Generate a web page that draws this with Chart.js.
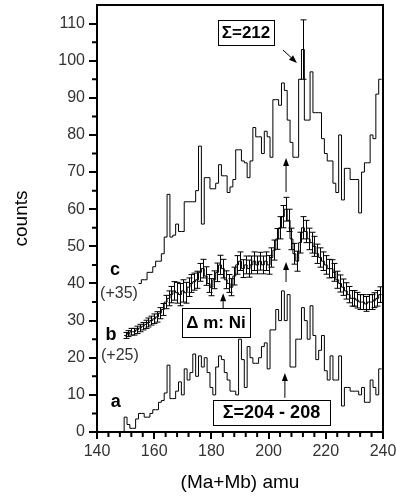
<!DOCTYPE html>
<html>
<head>
<meta charset="utf-8">
<script src="https://cdn.jsdelivr.net/npm/chart.js@4.4.0/dist/chart.umd.min.js"></script>
<style>
html,body{margin:0;padding:0;background:#fff;}
#wrap{width:396px;height:500px;position:relative;}
</style>
</head>
<body>
<div id="wrap"><canvas id="chart" width="396" height="500"></canvas></div>
<script>
// ---- data (bin centres in amu, counts as plotted incl. offsets) ----
const amuA = [149,150,151,152,153,154,155,156,157,158,159,160,161,162,163,164,165,166,167,168,169,170,171,172,173,174,175,176,177,178,179,180,181,182,183,184,185,186,187,188,189,190,191,192,193,194,195,196,197,198,199,200,201,202,203,204,205,206,207,208,209,210,211,212,213,214,215,216,217,218,219,220,221,222,223,224,225,226,227,228,229,230,231,232,233,234,235,236,237,238,239];
const countsA = [0,4,2,1,1,3.5,5,5,4,4,5,6,6,8,8.5,10.5,18,9,9,11,13.5,10,17,14,16,21,15,20.5,17.5,20,16,12,10,17.5,20.5,19.5,16,14,11,11,10,25,19.5,12,23,20,18.5,18.5,20,23,24,17,27.5,27.5,33,30,38,30,37,17.5,17.5,25,25,33.5,30,25,34,26,19.5,22,26,16.5,14,20.5,14,14,20.5,7,12,12,11,11,11,10,12,8,8,14,12,10,17];

const amuB = [150,151,152,153,154,155,156,157,158,159,160,161,162,163,164,165,166,167,168,169,170,171,172,173,174,175,176,177,178,179,180,181,182,183,184,185,186,187,188,189,190,191,192,193,194,195,196,197,198,199,200,201,202,203,204,205,206,207,208,209,210,211,212,213,214,215,216,217,218,219,220,221,222,223,224,225,226,227,228,229,230,231,232,233,234,235,236,237,238,239];
const countsB = [26,26.5,27,27,27.5,28,28.5,29,29.5,30,30.5,31,32,33,35,36,37,38,37.5,37,38,37.5,39,40,40.5,41,43,44,42,40,39,41,43,45,44,41,40,39,42,45,46,44,45,44,45,46,45,46,45,46,45,47,49,52,55,58,60,57,52,48,46,51,55,54,52,51,50,48,47,46,45,44,44,43,41,40,39,38,37,36,36,35.5,35,35,34.5,35,35,35.5,36,37];
const errB = [0.8,0.8,0.9,0.9,1,1,1,1.1,1.2,1.2,1.3,1.4,1.5,1.6,1.8,2,2.2,2.5,2.8,3,3,2.8,2.5,2.4,2.3,2.3,2.4,2.5,2.5,2.4,2.3,2.4,2.5,2.6,2.5,2.4,2.4,2.3,2.4,2.5,2.5,2.4,2.4,2.3,2.4,2.5,2.4,2.4,2.4,2.5,2.5,2.6,2.7,2.8,3,3,3.2,3,2.9,2.8,2.7,2.8,3,3,2.9,2.8,2.7,2.6,2.6,2.5,2.5,2.5,2.4,2.4,2.3,2.3,2.2,2.2,2.2,2.1,2.1,2.1,2,2,2,2,2,2,2.1,2.1];

const amuC = [155,156,157,158,159,160,161,162,163,164,165,166,167,168,169,170,171,172,173,174,175,176,177,178,179,180,181,182,183,184,185,186,187,188,189,190,191,192,193,194,195,196,197,198,199,200,201,202,203,204,205,206,207,208,209,210,211,212,213,214,215,216,217,218,219,220,221,222,223,224,225,226,227,228,229,230,231,232,233,234,235,236,237,238,239];
const countsC = [40,41,41,43,43,44.5,46,46,48,52.5,64,52.5,53,56,54,54,62,62,62,62,65,77,56,68.5,68.5,65.5,65.5,67,72,69,69,64.5,66,68,76,76,73,72.5,68.5,73,82,79.5,79.5,75,81,79.5,74,89.5,89.5,88,94,92,84,78,74,74,95,103,84,84,97,86,86,86,79,75,73,73,67,64.5,80,62.5,71,71,68,68,68,59,70,72.5,72.5,80,79,91,95];
const errCAmu = [212];
const errCVal = [8];

const xTickLabels = [140,160,180,200,220,240];
const yTickLabels = [0,10,20,30,40,50,60,70,80,90,100,110];

// ---- annotations (data coordinates) ----
const boxes = [
  {text:'Σ=212', x:192.1, y:107.6, w:56, h:25, size:17},
  {text:'Δ m: Ni', x:181.6, y:29.5, w:68, h:29, size:17},
  {text:'Σ=204 - 208', x:201, y:5.25, w:117, h:25, size:18}
];
const arrows = [
  {x0:205.0, y0:102.9, x1:209.9, y1:99.4},
  {x0:206.1, y0:64.6, x1:206.1, y1:73.8},
  {x0:206.1, y0:40.4, x1:206.1, y1:45.8},
  {x0:205.7, y0:9.2, x1:205.7, y1:15.9},
  {x0:184.1, y0:32.9, x1:184.1, y1:37.4}
];
const curveLabels = [
  {text:'c', x:146.3, y:43.6, bold:true, size:18},
  {text:'(+35)', x:147.7, y:37.4, bold:false, size:16},
  {text:'b', x:144.9, y:26.1, bold:true, size:18},
  {text:'(+25)', x:148, y:20.7, bold:false, size:16},
  {text:'a', x:146.6, y:8.1, bold:true, size:18}
];

function steps(xs, ys){
  const pts = xs.map((x,i)=>({x:x-0.5, y:ys[i]}));
  pts.push({x:xs[xs.length-1]+0.5, y:ys[ys.length-1]});
  return pts;
}

const FONT = "'Liberation Sans', Arial, sans-serif";

const extras = {
  id:'extras',
  afterDatasetsDraw(chart){
    const ctx = chart.ctx, xs = chart.scales.x, ys = chart.scales.y;
    ctx.save();
    ctx.strokeStyle = '#000';
    ctx.lineWidth = 1;
    const bar = (xv, yv, e) => {
      const px = Math.round(xs.getPixelForValue(xv)) + 0.5;
      const t = ys.getPixelForValue(yv + e), b = ys.getPixelForValue(yv - e);
      ctx.beginPath();
      ctx.moveTo(px, t); ctx.lineTo(px, b);
      ctx.moveTo(px-3, t); ctx.lineTo(px+3, t);
      ctx.moveTo(px-3, b); ctx.lineTo(px+3, b);
      ctx.stroke();
    };
    amuB.forEach((x,i)=>bar(x, countsB[i], errB[i]));
    errCAmu.forEach((x,i)=>{
      const idx = amuC.indexOf(x);
      bar(x, countsC[idx], errCVal[i]);
    });
    ctx.restore();
  },
  afterDraw(chart){
    const ctx = chart.ctx, xs = chart.scales.x, ys = chart.scales.y;
    const ca = chart.chartArea;
    ctx.save();
    ctx.strokeStyle = '#000';
    ctx.lineWidth = 2;
    ctx.beginPath();
    ctx.moveTo(ca.left, ca.top); ctx.lineTo(ca.right, ca.top); ctx.lineTo(ca.right, ca.bottom);
    ctx.stroke();
    ctx.beginPath();
    for (let v = 144; v < 240; v += 4){
      if (v % 20 === 0) continue;
      const px = xs.getPixelForValue(v);
      ctx.moveTo(px, ca.bottom); ctx.lineTo(px, ca.bottom + 5);
    }
    for (let v = 5; v < 115; v += 10){
      const py = ys.getPixelForValue(v);
      ctx.moveTo(ca.left, py); ctx.lineTo(ca.left - 5, py);
    }
    ctx.stroke();
    ctx.lineWidth = 1;
    ctx.fillStyle = '#000';
    arrows.forEach(a=>{
      const x0 = xs.getPixelForValue(a.x0), y0 = ys.getPixelForValue(a.y0);
      const x1 = xs.getPixelForValue(a.x1), y1 = ys.getPixelForValue(a.y1);
      const ang = Math.atan2(y1-y0, x1-x0);
      const L = 8, W = 3;
      ctx.beginPath(); ctx.moveTo(x0,y0);
      ctx.lineTo(x1 - L*Math.cos(ang), y1 - L*Math.sin(ang)); ctx.stroke();
      ctx.beginPath();
      ctx.moveTo(x1, y1);
      ctx.lineTo(x1 - L*Math.cos(ang) - W*Math.sin(ang), y1 - L*Math.sin(ang) + W*Math.cos(ang));
      ctx.lineTo(x1 - L*Math.cos(ang) + W*Math.sin(ang), y1 - L*Math.sin(ang) - W*Math.cos(ang));
      ctx.closePath(); ctx.fill();
    });
    boxes.forEach(b=>{
      const cx = xs.getPixelForValue(b.x), cy = ys.getPixelForValue(b.y);
      const l = Math.round(cx - b.w/2) + 0.5, t = Math.round(cy - b.h/2) + 0.5;
      ctx.fillStyle = '#fff';
      ctx.fillRect(l, t, b.w, b.h);
      ctx.strokeStyle = '#000'; ctx.lineWidth = 1;
      ctx.strokeRect(l, t, b.w, b.h);
      ctx.fillStyle = '#000';
      ctx.font = 'bold ' + b.size + 'px ' + FONT;
      ctx.textAlign = 'center'; ctx.textBaseline = 'middle';
      ctx.fillText(b.text, cx, cy + 1);
    });
    curveLabels.forEach(c=>{
      ctx.fillStyle = c.bold ? '#000' : '#333';
      ctx.font = (c.bold ? 'bold ' : '') + c.size + 'px ' + FONT;
      ctx.textAlign = 'center'; ctx.textBaseline = 'middle';
      ctx.fillText(c.text, xs.getPixelForValue(c.x), ys.getPixelForValue(c.y));
    });
    ctx.restore();
  }
};

const ds = (xs, ys) => ({
  data: steps(xs, ys), stepped: true, borderColor: '#000', borderWidth: 1,
  pointRadius: 0, fill: false, tension: 0
});

const noPad = s => { s.paddingLeft = 0; s.paddingRight = 0; s.paddingTop = 0; s.paddingBottom = 0; };

new Chart(document.getElementById('chart'), {
  type: 'line',
  data: { datasets: [ds(amuA, countsA), ds(amuB, countsB), ds(amuC, countsC)] },
  options: {
    responsive: false, animation: false, devicePixelRatio: 1,
    layout: { padding: { left: 0, right: 13, top: 5, bottom: 0 } },
    plugins: { legend: { display: false }, tooltip: { enabled: false } },
    scales: {
      x: {
        type: 'linear', min: 140, max: 240,
        afterBuildTicks: s => { s.ticks = xTickLabels.map(v => ({ value: v })); },
        afterFit: s => { s.height = 68; noPad(s); },
        ticks: { color: '#333', font: { family: FONT, size: 16 }, maxRotation: 0, padding: 3 },
        grid: { drawOnChartArea: false, drawTicks: true, tickLength: 7, color: '#000', lineWidth: 2 },
        border: { display: true, color: '#000', width: 2 },
        title: { display: true, text: '(Ma+Mb) amu', color: '#000',
                 font: { family: FONT, size: 19 }, padding: { top: 0, bottom: 6 } }
      },
      y: {
        type: 'linear', min: 0, max: 115,
        afterBuildTicks: s => { s.ticks = yTickLabels.map(v => ({ value: v })); },
        afterFit: s => { s.width = 97; noPad(s); },
        ticks: { color: '#333', font: { family: FONT, size: 16 }, padding: 4 },
        grid: { drawOnChartArea: false, drawTicks: true, tickLength: 8, color: '#000', lineWidth: 2 },
        border: { display: true, color: '#000', width: 2 },
        title: { display: true, text: 'counts', color: '#000',
                 font: { family: FONT, size: 19 }, padding: { top: 10, bottom: 0 } }
      }
    }
  },
  plugins: [extras]
});
</script>
</body>
</html>
